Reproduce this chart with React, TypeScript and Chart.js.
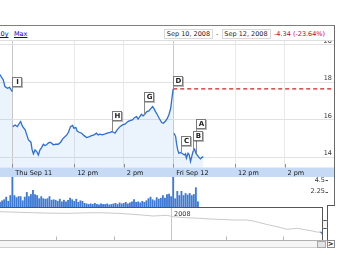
import { useEffect, useRef } from "react";
import { Chart, registerables } from "chart.js";

Chart.register(...registerables);

const FONT = "'DejaVu Sans', Verdana, sans-serif";

// Header texts
const periodLinksBefore = "5y 10y";
const periodLinkMax = "Max";
const rangeStart = "Sep 10, 2008";
const rangeEnd = "Sep 12, 2008";
const changeText = "-4.34 (-23.64%)";

// Intraday prices; x = minutes after Thu Sep 11 09:30 (Fri Sep 12 opens at 390)
const wedMinutes = [-34, -30, -22, -18, -12, -7, -3, 0];
const wedPrices = [18.5, 18.39, 18.12, 17.77, 17.68, 17.73, 17.59, 17.5];

const thuMinutes = [
  1, 7, 12, 17, 20, 25, 31, 35, 39, 45, 48, 51, 55, 59, 63, 67, 71, 75, 79, 83,
  87, 91, 95, 99, 105, 111, 117, 122, 128, 132, 136, 141, 146, 149, 154, 157,
  162, 168, 174, 180, 187, 192, 198, 204, 208, 212, 218, 225, 230, 237, 242,
  249, 254, 261, 267, 273, 280, 285, 291, 296, 301, 305, 309, 313, 317, 320,
  326, 331, 335, 340, 343, 347, 351, 356, 362, 366, 372, 376, 380, 384, 387, 390,
];
const thuPrices = [
  15.63, 15.72, 15.63, 15.81, 15.9, 15.63, 15.46, 15.19, 14.92, 14.8, 14.39,
  14.18, 14.39, 14.3, 14.12, 14.39, 14.51, 14.69, 14.62, 14.66, 14.75, 14.8,
  14.75, 14.66, 14.69, 14.69, 14.8, 14.98, 15.1, 15.19, 15.33, 15.63, 15.69,
  15.55, 15.58, 15.4, 15.33, 15.28, 15.15, 15.05, 15.1, 15.15, 15.19, 15.28,
  15.19, 15.23, 15.19, 15.24, 15.28, 15.33, 15.37, 15.28, 15.46, 15.63, 15.72,
  15.76, 15.9, 15.95, 15.99, 16.11, 16.17, 16.03, 16.17, 16.29, 16.2, 16.26,
  16.43, 16.47, 16.58, 16.7, 16.61, 16.43, 16.29, 16.08, 15.85, 15.81, 15.94,
  16.08, 16.29, 16.61, 17.15, 17.65,
];

const friMinutes = [
  392, 396, 398, 401, 404, 408, 413, 417, 420, 422, 426, 429, 432, 435, 438,
  442, 445, 448, 452, 456, 459, 463,
];
const friPrices = [
  15.28, 15.1, 14.75, 14.39, 14.21, 14.25, 14.18, 14.12, 14.18, 13.95, 14.21,
  14.12, 13.77, 14.03, 14.3, 14.43, 14.21, 14.12, 14.0, 13.91, 13.98, 14.03,
];

const prevClose = 17.65;

const sessionTicks = [0, 150, 270, 390, 540, 660];
const sessionLabels = ["Thu Sep 11", "12 pm", "2 pm", "Fri Sep 12", "12 pm", "2 pm"];
const dayStarts = [0, 390];
const priceTicks = [14, 16, 18, 20];

// News flags
const flagLetters = ["A", "B", "C", "D", "G", "H", "I"];
const flagMinutes = [445, 438, 408, 390, 320, 242, 0];

// Volume (millions), 5-minute bars
const VOLUME_STEP = 5;
const wedVolumeStart = -30;
const wedVolume = [0.9, 1.2, 1.4, 1.9, 1.1, 2.2];
const thuVolume = [
  5.7, 2.2, 1.8, 2.0, 2.0, 1.2, 1.9, 2.8, 2.0, 2.4,
  3.2, 2.4, 2.2, 1.6, 2.0, 1.6, 1.5, 1.6, 2.0, 1.3,
  1.4, 1.3, 1.1, 1.5, 1.0, 1.3, 1.0, 1.3, 1.7, 1.4,
  1.1, 1.5, 0.9, 1.2, 1.1, 0.7, 0.6, 0.5, 0.6, 0.5,
  0.7, 0.5, 0.4, 0.6, 0.5, 0.5, 0.6, 0.4, 0.5, 0.6,
  0.7, 0.5, 0.8, 0.6, 0.7, 0.9, 0.6, 0.8, 1.0, 1.4,
  0.9, 1.0, 0.8, 1.1, 0.9, 1.2, 1.6, 1.9, 1.4, 1.2,
  1.8, 1.5, 1.7, 2.2, 1.7, 2.4, 2.5, 2.0,
];
const friVolumeStart = 390;
const friVolume = [5.7, 1.6, 3.0, 2.2, 3.0, 2.2, 2.6, 2.3, 2.6, 2.2, 2.4, 3.7, 1.0];
const volumeTicks = [2.25, 4.5];

// Overview strip: x = days from Jan 1 2008
const navDays = [
  -295, -287, -260, -232, -205, -175, -150, -119, -90, -63, -45, -30, -15, -6,
  4, 25, 49, 65, 78, 92, 105, 128, 140, 150, 165, 179, 196, 205, 213, 229, 240,
  246, 251,
];
const navPrices = [
  67.5, 67.2, 66.0, 64.8, 63.8, 63.4, 64.2, 64.8, 63.4, 61.0, 59.0, 57.0, 58.0,
  58.7, 55.3, 53.0, 51.5, 50.0, 49.2, 48.5, 47.5, 47.5, 45.0, 41.1, 36.0, 31.6,
  25.4, 26.5, 27.8, 23.7, 21.0, 19.0, 18.8,
];
const navSelDays = [251, 253, 254, 255];
const navSelPrices = [18.8, 18.36, 17.65, 14.02];
const navYearLabel = "2008";
const navQuarterTicks = [-192, -95, 94, 190];

const X_MIN = -30;
const X_MAX = 780;
const FLAG_SIZE = 9;
const FLAG_STEMS = [25, 12, 8, 4, 14, 12, 6];

type Pt = { x: number; y: number | null };
const toPoints = (xs: number[], ys: number[]): Pt[] => xs.map((x, i) => ({ x, y: ys[i] }));

// keep the axis from reserving room for overhanging labels
const noPadding = (s: any) => {
  s.paddingTop = 0;
  s.paddingBottom = 0;
  s.paddingLeft = 0;
  s.paddingRight = 0;
};

export default function App() {
  const priceRef = useRef<HTMLCanvasElement>(null);
  const volRef = useRef<HTMLCanvasElement>(null);
  const navRef = useRef<HTMLCanvasElement>(null);

  useEffect(() => {
    const priceSeries: Pt[] = [
      ...toPoints(wedMinutes, wedPrices),
      { x: 0.5, y: null },
      ...toPoints(thuMinutes, thuPrices),
      { x: 390.5, y: null },
      ...toPoints(friMinutes, friPrices),
    ];

    const priceDecor = {
      id: "priceDecor",
      beforeDraw(chart: any) {
        const { ctx, chartArea } = chart;
        ctx.save();
        ctx.fillStyle = "#c6daf5";
        ctx.fillRect(0, chartArea.bottom, chart.width, chart.height - chartArea.bottom);
        ctx.restore();
      },
      afterDatasetsDraw(chart: any) {
        const { ctx, chartArea, scales } = chart;
        const xs = scales.x;
        const ys = scales.y;
        ctx.save();
        ctx.lineWidth = 1;
        ctx.strokeStyle = "#8d8d8d";
        sessionTicks.forEach((t) => {
          const px = Math.round(xs.getPixelForValue(t)) + 0.5;
          ctx.beginPath();
          ctx.moveTo(px, chartArea.bottom - 3.5);
          ctx.lineTo(px, chartArea.bottom);
          ctx.stroke();
        });
        flagLetters.forEach((letter, i) => {
          const pt = priceSeries.find((p) => p.x === flagMinutes[i]);
          if (!pt || pt.y == null) return;
          const px = Math.round(xs.getPixelForValue(pt.x)) + 0.5;
          const py = ys.getPixelForValue(pt.y);
          const top = Math.round(py - FLAG_STEMS[i] - FLAG_SIZE) + 0.5;
          ctx.strokeStyle = "#8a8a8a";
          ctx.beginPath();
          ctx.moveTo(px, py);
          ctx.lineTo(px, top + FLAG_SIZE);
          ctx.stroke();
          ctx.fillStyle = "rgba(0,0,0,0.28)";
          ctx.fillRect(px + 0.5, top + 0.5, FLAG_SIZE + 1, FLAG_SIZE + 1);
          ctx.fillStyle = "#ffffff";
          ctx.fillRect(px, top, FLAG_SIZE, FLAG_SIZE);
          ctx.strokeStyle = "#7a7a7a";
          ctx.strokeRect(px, top, FLAG_SIZE, FLAG_SIZE);
          ctx.fillStyle = "#222";
          ctx.font = `bold 7px ${FONT}`;
          ctx.textAlign = "center";
          ctx.textBaseline = "middle";
          ctx.fillText(letter, px + FLAG_SIZE / 2 + 0.5, top + FLAG_SIZE / 2 + 0.5);
        });
        ctx.restore();
      },
    };

    const priceChart = new Chart(priceRef.current!, {
      type: "line",
      data: {
        datasets: [
          {
            data: priceSeries as any,
            borderColor: "#2c6ed5",
            borderWidth: 1.3,
            pointRadius: 0,
            pointHoverRadius: 0,
            tension: 0,
            spanGaps: false,
            fill: "start",
            backgroundColor: "rgba(100,160,235,0.13)",
          },
          {
            data: [
              { x: 390, y: prevClose },
              { x: X_MAX, y: prevClose },
            ],
            borderColor: "#d42020",
            borderWidth: 1.2,
            borderDash: [4, 3],
            pointRadius: 0,
            pointHoverRadius: 0,
            fill: false,
          },
        ],
      },
      options: {
        responsive: false,
        animation: false,
        events: [],
        layout: { padding: 0 },
        plugins: { legend: { display: false }, tooltip: { enabled: false } },
        scales: {
          x: {
            type: "linear",
            min: X_MIN,
            max: X_MAX,
            position: "bottom",
            afterBuildTicks: (s: any) => {
              s.ticks = sessionTicks.map((v) => ({ value: v }));
            },
            afterFit: (s: any) => {
              s.height = 9.5;
              noPadding(s);
            },
            ticks: {
              autoSkip: false,
              maxRotation: 0,
              align: "start",
              labelOffset: 3,
              padding: 1.5,
              color: "#111",
              font: { family: FONT, size: 6.5 },
              callback: (_v: any, i: number) => sessionLabels[i],
            },
            grid: {
              drawTicks: false,
              color: (c: any) =>
                c.tick && dayStarts.includes(c.tick.value) ? "#c9c9c9" : "#e9e9e9",
            },
            border: { display: false },
          },
          y: {
            type: "linear",
            position: "right",
            min: 13.45,
            max: 20.2,
            afterBuildTicks: (s: any) => {
              s.ticks = priceTicks.map((v) => ({ value: v }));
            },
            afterFit: (s: any) => {
              s.width = 0;
              noPadding(s);
            },
            ticks: {
              mirror: true,
              padding: -2,
              labelOffset: -3.5,
              color: "#333",
              font: { family: FONT, size: 6.5 },
              callback: (v: any) => String(v),
            },
            grid: { drawTicks: false, color: "#e2e2e2" },
            border: { display: false },
          },
        },
      },
      plugins: [priceDecor],
    });

    const volumeSeries: Pt[] = [
      ...wedVolume.map((v, i) => ({ x: wedVolumeStart + i * VOLUME_STEP, y: v })),
      ...thuVolume.map((v, i) => ({ x: i * VOLUME_STEP, y: v })),
      ...friVolume.map((v, i) => ({ x: friVolumeStart + i * VOLUME_STEP, y: v })),
    ];

    const volumeDecor = {
      id: "volumeDecor",
      beforeDatasetsDraw(chart: any) {
        const { ctx, chartArea } = chart;
        const xs = chart.scales.x;
        ctx.save();
        ctx.strokeStyle = "#cfcfcf";
        ctx.lineWidth = 1;
        dayStarts.forEach((d) => {
          const px = Math.round(xs.getPixelForValue(d)) + 0.5;
          ctx.beginPath();
          ctx.moveTo(px, chartArea.top);
          ctx.lineTo(px, chartArea.bottom);
          ctx.stroke();
        });
        ctx.restore();
      },
      afterDraw(chart: any) {
        const { ctx } = chart;
        const ys = chart.scales.y;
        ctx.save();
        ctx.strokeStyle = "#555";
        ctx.lineWidth = 1;
        volumeTicks.forEach((t) => {
          const py = Math.round(ys.getPixelForValue(t) - 3.5) + 0.5;
          ctx.beginPath();
          ctx.moveTo(325.5, py);
          ctx.lineTo(328, py);
          ctx.stroke();
        });
        ctx.restore();
      },
    };

    const volChart = new Chart(volRef.current!, {
      type: "bar",
      data: {
        datasets: [
          {
            data: volumeSeries as any,
            backgroundColor: "#3d7ad6",
            borderWidth: 0,
            barThickness: 1.2,
            minBarLength: 0,
          },
        ],
      },
      options: {
        responsive: false,
        animation: false,
        events: [],
        layout: { padding: 0 },
        plugins: { legend: { display: false }, tooltip: { enabled: false } },
        scales: {
          x: {
            type: "linear",
            min: X_MIN,
            max: X_MAX,
            offset: false,
            display: false,
            grid: { offset: false },
          },
          y: {
            type: "linear",
            position: "right",
            min: 0,
            max: 5.75,
            beginAtZero: true,
            afterBuildTicks: (s: any) => {
              s.ticks = volumeTicks.map((v) => ({ value: v }));
            },
            afterFit: (s: any) => {
              s.width = 0;
              noPadding(s);
            },
            ticks: {
              mirror: true,
              padding: -9,
              labelOffset: -3.5,
              color: "#333",
              font: { family: FONT, size: 6.5 },
              callback: (v: any) => String(v),
            },
            grid: { display: false },
            border: { display: false },
          },
        },
      },
      plugins: [volumeDecor],
    });

    const navDecor = {
      id: "navDecor",
      beforeDatasetsDraw(chart: any) {
        const { ctx, chartArea } = chart;
        const xs = chart.scales.x;
        ctx.save();
        ctx.lineWidth = 1;
        const yx = Math.round(xs.getPixelForValue(0)) + 0.5;
        ctx.strokeStyle = "#c8c8c8";
        ctx.beginPath();
        ctx.moveTo(yx, chartArea.top);
        ctx.lineTo(yx, chartArea.bottom);
        ctx.stroke();
        ctx.strokeStyle = "#b8b8b8";
        navQuarterTicks.forEach((d) => {
          const px = Math.round(xs.getPixelForValue(d)) + 0.5;
          ctx.beginPath();
          ctx.moveTo(px, chartArea.bottom - 3.5);
          ctx.lineTo(px, chartArea.bottom);
          ctx.stroke();
        });
        ctx.fillStyle = "#333";
        ctx.font = `6.5px ${FONT}`;
        ctx.textAlign = "left";
        ctx.textBaseline = "top";
        ctx.fillText(navYearLabel, yx + 2.5, chartArea.top + 3.5);
        ctx.restore();
      },
    };

    const navChart = new Chart(navRef.current!, {
      type: "line",
      data: {
        datasets: [
          {
            data: toPoints(navDays, navPrices) as any,
            borderColor: "#c9c9c9",
            borderWidth: 1,
            pointRadius: 0,
            tension: 0,
            fill: false,
          },
          {
            data: toPoints(navSelDays, navSelPrices) as any,
            borderColor: "#3c7bd9",
            borderWidth: 1.2,
            pointRadius: 0,
            tension: 0,
            fill: false,
          },
        ],
      },
      options: {
        responsive: false,
        animation: false,
        events: [],
        layout: { padding: 0 },
        plugins: { legend: { display: false }, tooltip: { enabled: false } },
        scales: {
          x: { type: "linear", min: -287, max: 275, display: false },
          y: { type: "linear", min: 0, max: 76, display: false },
        },
      },
      plugins: [navDecor],
    });

    return () => {
      priceChart.destroy();
      volChart.destroy();
      navChart.destroy();
    };
  }, []);

  const abs = (s: any): any => ({ position: "absolute", ...s });
  const text = { fontFamily: FONT, fontSize: 6.5, lineHeight: "8px", whiteSpace: "nowrap" };

  return (
    <div
      style={{
        position: "fixed",
        left: 0,
        top: 0,
        width: 340,
        height: 255,
        overflow: "hidden",
        background: "#fff",
      }}
    >
      <canvas ref={priceRef} width={334} height={136} style={abs({ left: 0, top: 41, width: 334, height: 136 })} />
      <canvas ref={volRef} width={334} height={30} style={abs({ left: 0, top: 177, width: 334, height: 30 })} />
      <canvas ref={navRef} width={334} height={32} style={abs({ left: 0, top: 208, width: 334, height: 32 })} />

      {/* header bar */}
      <div style={abs({ left: 0, top: 25, width: 335, height: 1, background: "#7f7f7f" })} />
      <div style={abs({ right: 331.5, top: 30, ...text, color: "#0000cc", textDecoration: "underline" })}>
        {periodLinksBefore}
      </div>
      <div style={abs({ left: 14, top: 30, ...text, color: "#0000cc", textDecoration: "underline" })}>
        {periodLinkMax}
      </div>
      <div
        style={abs({
          left: 164,
          top: 29,
          width: 49,
          height: 10,
          boxSizing: "border-box",
          border: "1px solid #d9d9d9",
          textAlign: "center",
          color: "#222",
          ...text,
        })}
      >
        {rangeStart}
      </div>
      <div style={abs({ left: 216, top: 30, color: "#555", ...text })}>-</div>
      <div
        style={abs({
          left: 221.5,
          top: 29,
          width: 49,
          height: 10,
          boxSizing: "border-box",
          border: "1px solid #d9d9d9",
          textAlign: "center",
          color: "#222",
          ...text,
        })}
      >
        {rangeEnd}
      </div>
      <div style={abs({ left: 274, top: 30, color: "#cc0033", ...text })}>{changeText}</div>
      <div style={abs({ left: 0, top: 40, width: 334, height: 1, background: "#dedede" })} />

      {/* frame and overview window */}
      <div style={abs({ left: 334, top: 25, width: 1, height: 181, background: "#6a6a6a" })} />
      <div style={abs({ left: 326.5, top: 205, width: 8.5, height: 1, background: "#555" })} />
      <div style={abs({ left: 0, top: 207, width: 323, height: 1, background: "#555" })} />
      <div style={abs({ left: 322, top: 207, width: 1, height: 33, background: "#555" })} />
      <div style={abs({ left: 326.5, top: 205, width: 1, height: 35, background: "#555" })} />
      <div
        style={abs({
          left: 321.5,
          top: 220,
          width: 6.5,
          height: 9,
          boxSizing: "border-box",
          border: "1px solid #555",
          borderRadius: 1.5,
          background: "#f4f4f4",
        })}
      />
      <div style={abs({ left: 0, top: 240, width: 334, height: 1, background: "#b0b0b0" })} />
      <div style={abs({ left: 0, top: 241, width: 326, height: 6, background: "#f5f5f5" })} />
      <div style={abs({ left: 0, top: 247, width: 326, height: 1, background: "#d0d0d0" })} />
      <div
        style={abs({
          left: 316.5,
          top: 240.5,
          width: 9,
          height: 7,
          boxSizing: "border-box",
          border: "1px solid #a8a8a8",
          background: "#e4e4e4",
        })}
      />
      <div
        style={abs({
          left: 326.5,
          top: 240,
          width: 8.5,
          height: 8,
          boxSizing: "border-box",
          border: "1px solid #8a8a8a",
          background: "#fff",
          fontFamily: FONT,
          fontSize: 7,
          fontWeight: "bold",
          lineHeight: "6px",
          textAlign: "center",
          color: "#111",
        })}
      >
        {">"}
      </div>
    </div>
  );
}
